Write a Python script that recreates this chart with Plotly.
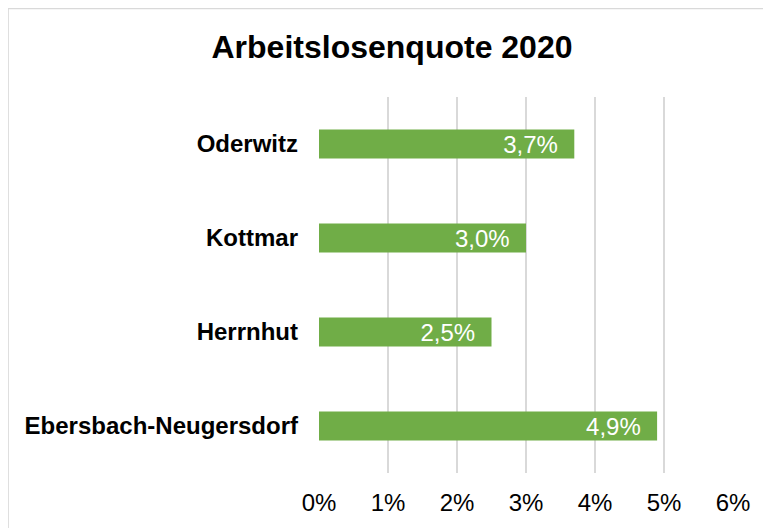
import plotly.graph_objects as go

# bottom to top, as drawn
gemeinden = ["Ebersbach-Neugersdorf", "Herrnhut", "Kottmar", "Oderwitz"]
quote = [0.049, 0.025, 0.030, 0.037]
x_ticks = [0, 0.01, 0.02, 0.03, 0.04, 0.05, 0.06]

fig = go.Figure()

fig.add_trace(go.Bar(
    x=quote,
    y=gemeinden,
    orientation="h",
    marker_color="#70AD47",
    marker_line_width=0,
    texttemplate="%{x:.1%}\u00a0\u00a0",
    textposition="inside",
    insidetextanchor="end",
    constraintext="none",
    textfont=dict(color="white", size=24, family="Liberation Sans, Arial"),
    hoverinfo="skip"
))

fig.update_xaxes(
    range=[0, 0.06],
    tickvals=x_ticks,
    tickformat=".0%",
    showgrid=True, gridcolor="#D9D9D9", gridwidth=1.5,
    zeroline=False, showline=False,
    tickfont=dict(size=24, color="black"),
    ticklabelstandoff=13,
    fixedrange=True
)
fig.update_yaxes(
    showgrid=False, zeroline=False, showline=False,
    tickfont=dict(size=24, color="black", family="Liberation Sans, Arial", weight="bold"),
    ticklabelstandoff=20,
    fixedrange=True
)

# light frame around the chart
fig.add_shape(type="rect", xref="paper", yref="paper",
              x0=-0.751, x1=1.3, y0=-0.4, y1=1.2355,
              line=dict(color="#D9D9D9", width=1.5), layer="below")

# the page body has an 8px margin, so the figure is sized/offset for it
fig.update_layout(
    width=763, height=520,
    margin=dict(l=311, r=38, t=89, b=55),
    paper_bgcolor="white", plot_bgcolor="white",
    bargap=0.69,
    separators=",.",
    showlegend=False,
    font=dict(family="Liberation Sans, Arial", color="black"),
    title=dict(text="<b>Arbeitslosenquote 2020</b>", x=384 / 763, xanchor="center",
               y=1 - 39 / 520, yanchor="middle", xref="container", yref="container",
               font=dict(size=32, color="black"))
)

fig.write_html("out.html")
